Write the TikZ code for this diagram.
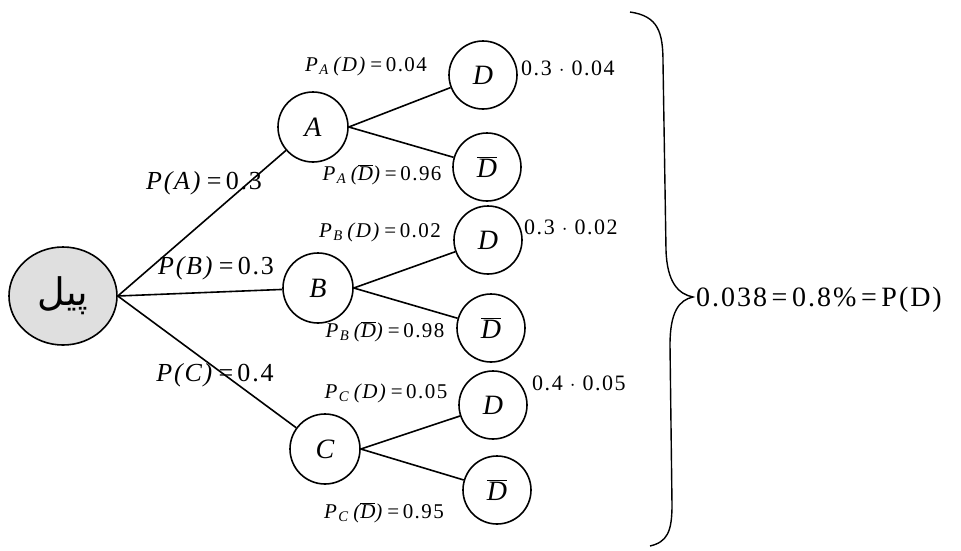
\documentclass[tikz,border=0pt]{standalone}
\usepackage{fontspec}
\setmainfont{Liberation Serif}
\newfontfamily\widefont[LetterSpace=7]{Liberation Serif}
\newfontfamily\arabicfont[Script=Arabic]{DejaVu Sans}
\TeXXeTstate=1
\usetikzlibrary{shapes.geometric}

\tikzset{
  evt/.style={draw, circle, line width=1.6pt, minimum size=70pt, inner sep=0pt,
    font={\fontsize{28}{28}\selectfont\itshape}},
  outc/.style={evt, minimum size=68pt},
  branch/.style={line width=1.6pt},
  plbl/.style={inner sep=1pt, font={\widefont\fontsize{26}{26}\selectfont}},
  qlbl/.style={inner sep=1pt, font={\widefont\fontsize{21}{21}\selectfont}},
  prod/.style={anchor=west, inner sep=1pt, font={\widefont\fontsize{22}{22}\selectfont}},
}

\newcommand{\condp}[3]{\textit{P}\textsubscript{\textit{#1}}\,\textit{(#2)}\,=\,#3}
\newcommand{\Dno}{$\overline{\hbox{\itshape D}}$}

\begin{document}
\begin{tikzpicture}[x=1pt, y=-1pt]

\useasboundingbox (0,0) rectangle (961,550);

\node [draw, ellipse, line width=1.6pt, fill=gray!25, minimum width=108pt,
minimum height=98pt, inner sep=0pt] (root) at (63,296)
 {\arabicfont\fontsize{38}{38}\selectfont\beginR پیل\endR};


\node [evt] (A) at (313,127) {A};
\node [evt] (B) at (318,288) {B};
\node [evt] (C) at (325,449) {C};


\node [outc] (DA) at (483,75) {D};
\node [outc] (NA) at (487,167) {\Dno};

\node [outc] (DB) at (488,240) {D};
\node [outc] (NB) at (491,328) {\Dno};

\node [outc] (DC) at (493,405) {D};
\node [outc] (NC) at (497,490) {\Dno};


\draw [branch] (root.east) -- (A);
\draw [branch] (root.east) -- (B);
\draw [branch] (root.east) -- (C);

\draw [branch] (A.east) -- (DA);
\draw [branch] (A.east) -- (NA);
\draw [branch] (B.east) -- (DB);
\draw [branch] (B.east) -- (NB);
\draw [branch] (C.east) -- (DC);
\draw [branch] (C.east) -- (NC);


\node [plbl] (pA) at (204,183) {\textit{P(A)}\,=\,0.3};
\node [plbl] (pB) at (216,268) {\textit{P(B)}\,=\,0.3};
\node [plbl] (pC) at (215,375) {\textit{P(C)}\,=\,0.4};


\node [qlbl] (qDA) at (366,66) {\condp{A}{D}{0.04}};
\node [qlbl] (qNA) at (382,175) {\condp{A}{\Dno}{0.96}};
\node [qlbl] (qDB) at (380,232) {\condp{B}{D}{0.02}};
\node [qlbl] (qNB) at (385,332) {\condp{B}{\Dno}{0.98}};
\node [qlbl] (qDC) at (386,393) {\condp{C}{D}{0.05}};
\node [qlbl] (qNC) at (384,513) {\condp{C}{\Dno}{0.95}};


\node [prod] (rA) at (520,68) {0.3\ $\cdot$\ 0.04};
\node [prod] (rB) at (523,227) {0.3\ $\cdot$\ 0.02};
\node [prod] (rC) at (531,383) {0.4\ $\cdot$\ 0.05};


% the brace
\draw [line width=1.4pt] (630,12) .. controls (658,16) and (663,32) .. (663,62)
 -- (666,250) .. controls (667,282) and (678,294) .. (693,297)
 .. controls (679,300) and (670,312) .. (670,345)
 -- (672,505) .. controls (672,532) and (667,542) .. (650,546);

\node [anchor=west, inner sep=1pt, font={\widefont\fontsize{28}{28}\selectfont}] (res)
 at (695,300) {0.038\,=\,0.8\%\,=\,P(D)};

\end{tikzpicture}
\end{document}
